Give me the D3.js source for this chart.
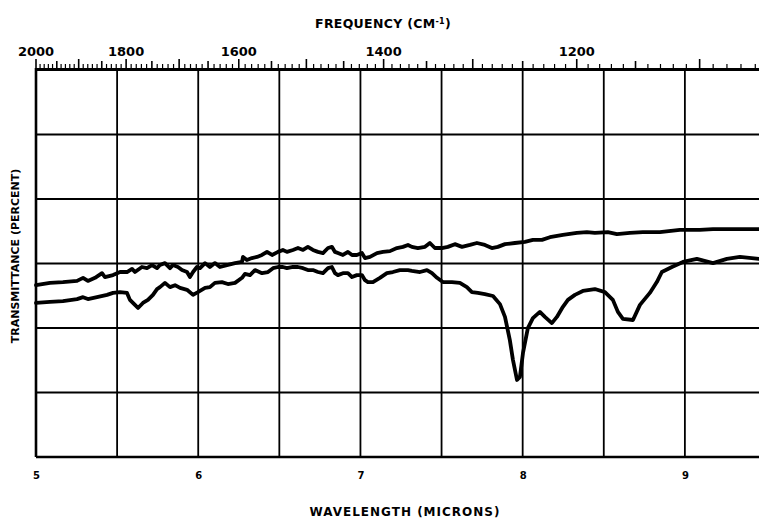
<!DOCTYPE html>
<html>
<head>
<meta charset="utf-8">
<script src="https://cdn.jsdelivr.net/npm/d3@7"></script>
<style>
  body { margin: 0; background: #fff; }
  svg { display: block; overflow: hidden; }
  text { font-family: "DejaVu Sans", sans-serif; font-weight: bold; fill: #000; }
</style>
</head>
<body>
<svg width="759" height="521"></svg>
<script>
// wavelength (microns), transmittance (percent)
const reference = [
  [5.000, 44.4], [5.086, 45.0], [5.166, 45.2], [5.253, 45.5], [5.290, 46.3], [5.320, 45.5],
  [5.364, 46.3], [5.407, 47.5], [5.425, 46.5], [5.475, 47.0], [5.518, 47.8], [5.561, 47.8],
  [5.592, 48.6], [5.610, 47.8], [5.653, 49.1], [5.684, 48.8], [5.715, 49.6], [5.746, 48.8],
  [5.764, 49.6], [5.795, 50.1], [5.826, 48.8], [5.844, 49.6], [5.875, 49.1], [5.900, 48.3],
  [5.931, 47.8], [5.949, 46.5], [5.968, 47.8], [5.992, 49.1], [6.011, 48.8], [6.042, 50.1],
  [6.072, 49.1], [6.103, 50.1], [6.134, 49.1], [6.177, 49.6], [6.227, 50.1], [6.270, 50.4],
  [6.276, 51.7], [6.300, 50.9], [6.331, 51.4], [6.362, 51.7], [6.393, 52.2], [6.424, 53.0],
  [6.455, 52.2], [6.492, 53.0], [6.522, 53.5], [6.547, 53.0], [6.584, 53.5], [6.615, 54.0],
  [6.646, 53.5], [6.676, 54.3], [6.707, 53.5], [6.738, 53.0], [6.769, 52.7], [6.800, 54.0],
  [6.824, 54.3], [6.843, 53.0], [6.861, 52.7], [6.892, 52.2], [6.923, 53.0], [6.948, 52.2],
  [6.978, 52.2], [7.009, 52.7], [7.028, 51.4], [7.059, 51.7], [7.102, 52.7], [7.139, 53.0],
  [7.182, 53.2], [7.225, 54.0], [7.262, 54.3], [7.293, 54.8], [7.317, 54.3], [7.354, 54.0],
  [7.398, 54.3], [7.428, 55.3], [7.459, 54.0], [7.502, 54.0], [7.539, 54.3], [7.582, 55.0],
  [7.626, 54.3], [7.675, 54.8], [7.718, 55.3], [7.767, 54.8], [7.810, 54.0], [7.847, 54.3],
  [7.891, 55.0], [7.952, 55.3], [8.014, 55.6], [8.063, 56.1], [8.119, 56.1], [8.168, 56.8],
  [8.248, 57.4], [8.334, 57.9], [8.396, 58.1], [8.445, 57.9], [8.525, 58.1], [8.581, 57.6],
  [8.661, 57.9], [8.741, 58.1], [8.846, 58.1], [8.969, 58.7], [9.092, 58.7], [9.173, 58.9],
  [9.296, 58.9], [9.456, 58.9], [9.500, 58.9]
];
const sample = [
  [5.000, 39.8], [5.086, 40.1], [5.166, 40.3], [5.253, 40.8], [5.290, 41.3], [5.320, 40.8],
  [5.376, 41.3], [5.438, 41.9], [5.475, 42.4], [5.518, 42.6], [5.561, 42.4], [5.579, 40.6],
  [5.610, 39.3], [5.629, 38.5], [5.659, 39.8], [5.690, 40.6], [5.721, 41.9], [5.746, 43.4],
  [5.764, 43.9], [5.795, 45.0], [5.826, 43.9], [5.857, 44.4], [5.888, 43.7], [5.931, 43.2],
  [5.968, 41.9], [5.998, 42.6], [6.042, 43.7], [6.072, 43.9], [6.103, 45.0], [6.146, 45.2],
  [6.183, 44.7], [6.227, 45.0], [6.270, 46.3], [6.288, 47.3], [6.319, 47.0], [6.350, 48.3],
  [6.393, 47.5], [6.430, 47.8], [6.461, 48.8], [6.492, 49.1], [6.522, 49.1], [6.547, 48.8],
  [6.584, 49.1], [6.615, 49.1], [6.646, 48.8], [6.676, 48.3], [6.707, 48.3], [6.738, 47.8],
  [6.769, 47.5], [6.800, 48.8], [6.824, 49.1], [6.843, 47.5], [6.861, 47.0], [6.892, 47.5],
  [6.923, 47.5], [6.948, 46.5], [6.978, 47.0], [7.009, 47.0], [7.028, 45.7], [7.046, 45.2],
  [7.077, 45.2], [7.120, 46.3], [7.163, 47.5], [7.200, 47.8], [7.243, 48.3], [7.293, 48.3],
  [7.317, 48.1], [7.367, 47.8], [7.410, 48.3], [7.441, 47.5], [7.472, 46.3], [7.508, 45.2],
  [7.564, 45.2], [7.613, 45.0], [7.656, 43.9], [7.687, 42.6], [7.724, 42.4], [7.767, 42.1],
  [7.817, 41.6], [7.860, 39.5], [7.891, 36.2], [7.921, 30.2], [7.940, 25.1], [7.965, 19.9],
  [7.983, 20.7], [8.002, 26.9], [8.032, 33.3], [8.063, 35.9], [8.106, 37.5], [8.137, 36.2],
  [8.180, 34.6], [8.211, 36.2], [8.248, 38.8], [8.279, 40.6], [8.322, 41.9], [8.371, 42.9],
  [8.445, 43.4], [8.507, 42.6], [8.556, 40.6], [8.587, 37.5], [8.618, 35.7], [8.680, 35.4],
  [8.723, 39.3], [8.784, 42.4], [8.827, 45.2], [8.858, 47.8], [8.920, 49.1], [8.988, 50.4],
  [9.074, 51.2], [9.173, 50.1], [9.259, 51.2], [9.339, 51.7], [9.456, 51.2], [9.500, 51.2]
];
const wavelengthLabels = [5, 6, 7, 8, 9];
const wavelengthGrid = [5, 5.5, 6, 6.5, 7, 7.5, 8, 8.5, 9, 9.5];
const transmittanceGrid = [0, 16.67, 33.33, 50, 66.67, 83.33, 100];
const frequencyLabels = [2000, 1800, 1600, 1400, 1200];
const frequencyTicks = d3.range(2000, 1050, -10);

const svg = d3.select("svg"),
  width = 759,
  height = 521;

const x = d3.scaleLinear().domain([5, 9.5]).range([36, 766]);
const y = d3.scaleLinear().domain([0, 100]).range([457, 70]);
const fx = (f) => x(10000 / f);

// grid
svg.append("g")
  .selectAll("line")
  .data(wavelengthGrid)
  .join("line")
  .attr("x1", (d) => x(d))
  .attr("x2", (d) => x(d))
  .attr("y1", y(100))
  .attr("y2", y(0))
  .style("stroke", "#000")
  .style("stroke-width", 1.8);

svg.append("g")
  .selectAll("line")
  .data(transmittanceGrid)
  .join("line")
  .attr("x1", x(5))
  .attr("x2", x(9.5))
  .attr("y1", (d) => y(d))
  .attr("y2", (d) => y(d))
  .style("stroke", "#000")
  .style("stroke-width", (d) => (d == 0 ? 2.4 : 1.8));

svg.append("line")
  .attr("x1", x(5))
  .attr("x2", x(5))
  .attr("y1", y(100) - 2)
  .attr("y2", y(0))
  .style("stroke", "#000")
  .style("stroke-width", 2.6);

// top frequency axis
svg.append("line")
  .attr("x1", x(5))
  .attr("x2", x(9.5))
  .attr("y1", y(100) - 1)
  .attr("y2", y(100) - 1)
  .style("stroke", "#000")
  .style("stroke-width", 2);

svg.append("g")
  .selectAll("line")
  .data(frequencyTicks)
  .join("line")
  .attr("x1", (d) => fx(d))
  .attr("x2", (d) => fx(d))
  .attr("y1", y(100) - 1)
  .attr("y2", (d) => y(100) - (d % 100 == 0 ? 11 : d % 50 == 0 ? 9 : 6))
  .style("stroke", "#000")
  .style("stroke-width", (d) => (d % 50 == 0 ? 1.6 : 1.2));

svg.append("g")
  .selectAll("text")
  .data(frequencyLabels)
  .join("text")
  .attr("x", (d) => fx(d))
  .attr("y", 56)
  .style("text-anchor", "middle")
  .style("font-size", "13px")
  .text((d) => d);

var topTitle = svg.append("text")
  .attr("x", 383)
  .attr("y", 28)
  .style("text-anchor", "middle")
  .style("font-size", "12.5px")
  .style("letter-spacing", "0.3px");
topTitle.append("tspan").text("FREQUENCY (CM");
topTitle.append("tspan").attr("dy", -4).style("font-size", "8px").text("-1");
topTitle.append("tspan").attr("dy", 4).text(")");

// bottom wavelength axis
svg.append("g")
  .attr("transform", `translate(0, ${y(0)})`)
  .call(d3.axisBottom(x).tickValues(wavelengthLabels).tickSize(0).tickPadding(15).tickFormat(d3.format("d")))
  .call((g) => g.select(".domain").remove())
  .selectAll("text")
  .style("font-size", "10px")
  .style("font-family", "DejaVu Sans, sans-serif")
  .style("font-weight", "bold");

svg.append("text")
  .attr("x", 405)
  .attr("y", 516)
  .style("text-anchor", "middle")
  .style("font-size", "12px")
  .style("letter-spacing", "1px")
  .text("WAVELENGTH (MICRONS)");

svg.append("text")
  .attr("transform", "translate(19, 256) rotate(-90)")
  .style("text-anchor", "middle")
  .style("font-size", "11px")
  .text("TRANSMITTANCE (PERCENT)");

// spectra
const line = d3.line()
  .x((d) => x(d[0]))
  .y((d) => y(d[1]));

svg.append("g")
  .selectAll("path")
  .data([reference, sample])
  .join("path")
  .attr("d", line)
  .style("fill", "none")
  .style("stroke", "#000")
  .style("stroke-width", 3.8)
  .style("stroke-linejoin", "round")
  .style("stroke-linecap", "round");
</script>
</body>
</html>
